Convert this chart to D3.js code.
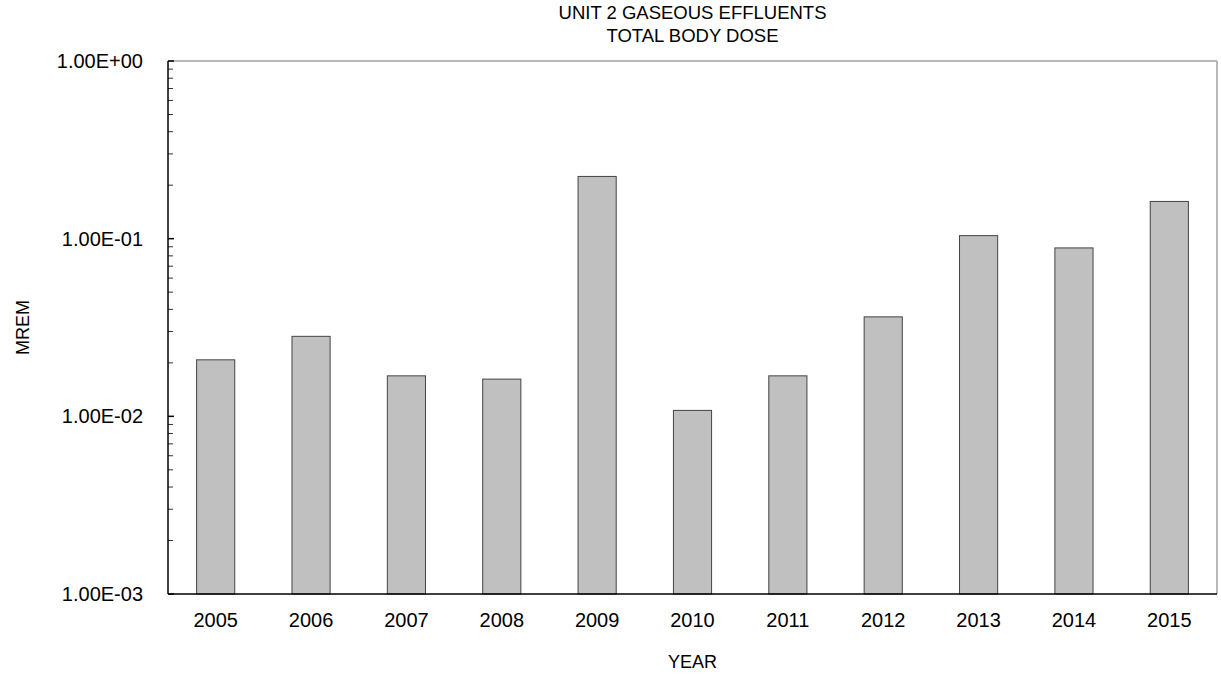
<!DOCTYPE html>
<html>
<head>
<meta charset="utf-8">
<script src="https://cdn.jsdelivr.net/npm/d3@7"></script>
<style>
  body { margin: 0; background: #fff; }
  svg text { font-family: "Liberation Sans", Arial, sans-serif; fill: #000; }
</style>
</head>
<body>
<div id="chart"></div>
<script>
// data
var years = ["2005", "2006", "2007", "2008", "2009", "2010", "2011", "2012", "2013", "2014", "2015"];
var doses = [0.0208, 0.0282, 0.0169, 0.0162, 0.224, 0.0108, 0.0169, 0.0363, 0.104, 0.0887, 0.162];
var yTicks = [1e-3, 1e-2, 1e-1, 1];
var yTickLabels = ["1.00E-03", "1.00E-02", "1.00E-01", "1.00E+00"];

var W = 1221, H = 675;
var margin = {top: 61, right: 4, bottom: 81, left: 168},
    width = W - margin.left - margin.right,
    height = H - margin.top - margin.bottom;

var svg = d3.select("#chart")
  .append("svg")
    .attr("width", W)
    .attr("height", H)
  .append("g")
    .attr("transform", "translate(" + margin.left + "," + margin.top + ")");

var x = d3.scaleBand()
  .domain(years)
  .range([0, width])
  .paddingInner(0.6)
  .paddingOuter(0.3);

var y = d3.scaleLog()
  .domain([1e-3, 1])
  .range([height, 0]);

// frame: top and right in grey
svg.append("line")
  .attr("x1", 0).attr("x2", width).attr("y1", 0).attr("y2", 0)
  .attr("stroke", "#a0a0a0").attr("stroke-width", 1.5);
svg.append("line")
  .attr("x1", width).attr("x2", width).attr("y1", 0).attr("y2", height)
  .attr("stroke", "#a0a0a0").attr("stroke-width", 1.5);

// bars
svg.append("g")
  .selectAll("rect")
  .data(doses)
  .enter()
  .append("rect")
    .attr("x", function (d, i) { return x(years[i]); })
    .attr("y", function (d) { return y(d); })
    .attr("width", x.bandwidth())
    .attr("height", function (d) { return height - y(d); })
    .attr("fill", "#c0c0c0")
    .attr("stroke", "#444")
    .attr("stroke-width", 1);

// minor ticks (inside, pointing right)
var minor = [];
for (var e = -3; e < 0; e++) {
  for (var k = 2; k <= 9; k++) minor.push(k * Math.pow(10, e));
}
svg.append("g")
  .selectAll("line.minor")
  .data(minor)
  .enter()
  .append("line")
    .attr("x1", 0).attr("x2", 5)
    .attr("y1", function (d) { return y(d); })
    .attr("y2", function (d) { return y(d); })
    .attr("stroke", "#333").attr("stroke-width", 1);

// major ticks + labels
var yAxis = svg.append("g").attr("id", "yAxis");
yAxis.selectAll("line.major")
  .data(yTicks)
  .enter()
  .append("line")
    .attr("x1", 0).attr("x2", 6)
    .attr("y1", function (d) { return y(d); })
    .attr("y2", function (d) { return y(d); })
    .attr("stroke", "#000").attr("stroke-width", 1.5);
yAxis.selectAll("text")
  .data(yTicks)
  .enter()
  .append("text")
    .attr("x", -25)
    .attr("y", function (d) { return y(d); })
    .attr("dy", "0.35em")
    .style("text-anchor", "end")
    .style("font-size", "20px")
    .text(function (d, i) { return yTickLabels[i]; });

// axis lines
svg.append("line")
  .attr("x1", 0).attr("x2", 0).attr("y1", 0).attr("y2", height)
  .attr("stroke", "#000").attr("stroke-width", 1.5);
svg.append("line")
  .attr("x1", 0).attr("x2", width).attr("y1", height).attr("y2", height)
  .attr("stroke", "#000").attr("stroke-width", 1.5);

// x labels
svg.append("g")
  .selectAll("text")
  .data(years)
  .enter()
  .append("text")
    .attr("x", function (d) { return x(d) + x.bandwidth() / 2; })
    .attr("y", height + 33)
    .style("text-anchor", "middle")
    .style("font-size", "20px")
    .text(function (d) { return d; });

// axis titles
svg.append("text")
  .attr("x", width / 2)
  .attr("y", height + 74)
  .style("text-anchor", "middle")
  .style("font-size", "18px")
  .text("YEAR");

svg.append("text")
  .attr("transform", "rotate(-90)")
  .attr("x", -height / 2)
  .attr("y", -margin.left + 29)
  .style("text-anchor", "middle")
  .style("font-size", "18px")
  .text("MREM");

// title
svg.append("text")
  .attr("x", width / 2)
  .attr("y", -42)
  .style("text-anchor", "middle")
  .style("font-size", "18.5px")
  .text("UNIT 2 GASEOUS EFFLUENTS");
svg.append("text")
  .attr("x", width / 2)
  .attr("y", -19)
  .style("text-anchor", "middle")
  .style("font-size", "18.5px")
  .text("TOTAL BODY DOSE");
</script>
</body>
</html>
